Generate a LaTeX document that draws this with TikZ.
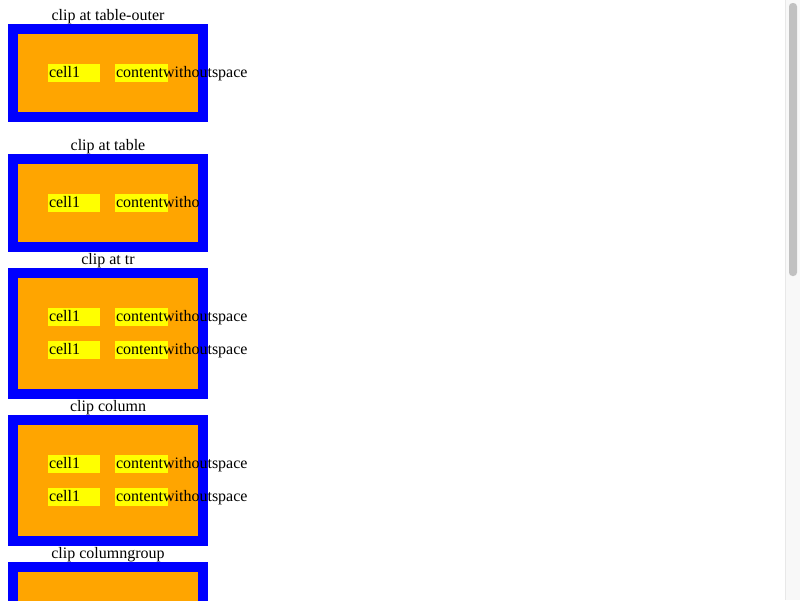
\documentclass[tikz,border=0pt]{standalone}
\usepackage{fontspec}
\setmainfont{Liberation Serif}
\definecolor{tblblue}{RGB}{0,0,255}
\definecolor{tblorange}{RGB}{255,165,0}
\definecolor{cellyellow}{RGB}{255,255,0}
\definecolor{sbtrack}{RGB}{248,248,248}
\definecolor{sbline}{RGB}{232,232,232}
\definecolor{sbthumb}{RGB}{193,193,193}
\tikzset{
  px/.style={x=1pt,y=-1pt},
  txt/.style={inner sep=0pt,outer sep=0pt,anchor=base west,font=\fontsize{16}{19}\selectfont},
  ttl/.style={inner sep=0pt,outer sep=0pt,anchor=base,font=\fontsize{16}{19}\selectfont},
  outerbox/.style={fill=tblblue},
  innerbox/.style={fill=tblorange},
  cellbox/.style={fill=cellyellow},
}
% \tbl{top}{bottom}
\newcommand{\tblframe}[2]{%
  \fill[outerbox] (8,#1) rectangle (208,#2);
  \fill[innerbox] (18,#1+10) rectangle (198,#2-10);
}
% \tblrow{celltop}{name}
\newcommand{\tblrow}[2]{%
  \fill[cellbox] (48,#1) rectangle (100,#1+18);
  \fill[cellbox] (115,#1) rectangle (168,#1+18);
  \node[txt] (#2a) at (49,#1+13) {cell1};
  \node[txt] (#2b) at (116,#1+13) {contentwithoutspace};
}
\begin{document}
\begin{tikzpicture}[px]
\useasboundingbox (0,0) rectangle (800,600);
\fill[white] (0,0) rectangle (800,600);
% scrollbar
\fill[sbtrack] (785,0) rectangle (800,600);
\draw[sbline] (785.5,0) -- (785.5,600);
\fill[sbthumb, rounded corners=3.5pt] (789,3) rectangle (797,276);
% box 1
\node[ttl] (t1) at (108,20) {clip at table-outer};
\tblframe{24}{122}
\tblrow{64}{r1}
% box 2
\node[ttl] (t2) at (108,150) {clip at table};
\tblframe{154}{252}
\begin{scope}
  \clip (18,164) rectangle (198,242);
  \tblrow{194}{r2}
\end{scope}
% box 3
\node[ttl] (t3) at (108,264) {clip at tr};
\tblframe{268}{399}
\tblrow{308}{r3}
\tblrow{341}{r4}
% box 4
\node[ttl] (t4) at (108,411) {clip column};
\tblframe{415}{546}
\tblrow{455}{r5}
\tblrow{488}{r6}
% box 5
\node[ttl] (t5) at (108,558) {clip columngroup};
\begin{scope}
  \clip (0,0) rectangle (785,600);
  \fill[outerbox] (8,562) rectangle (208,700);
  \fill[innerbox] (18,572) rectangle (198,690);
\end{scope}
\end{tikzpicture}
\end{document}
